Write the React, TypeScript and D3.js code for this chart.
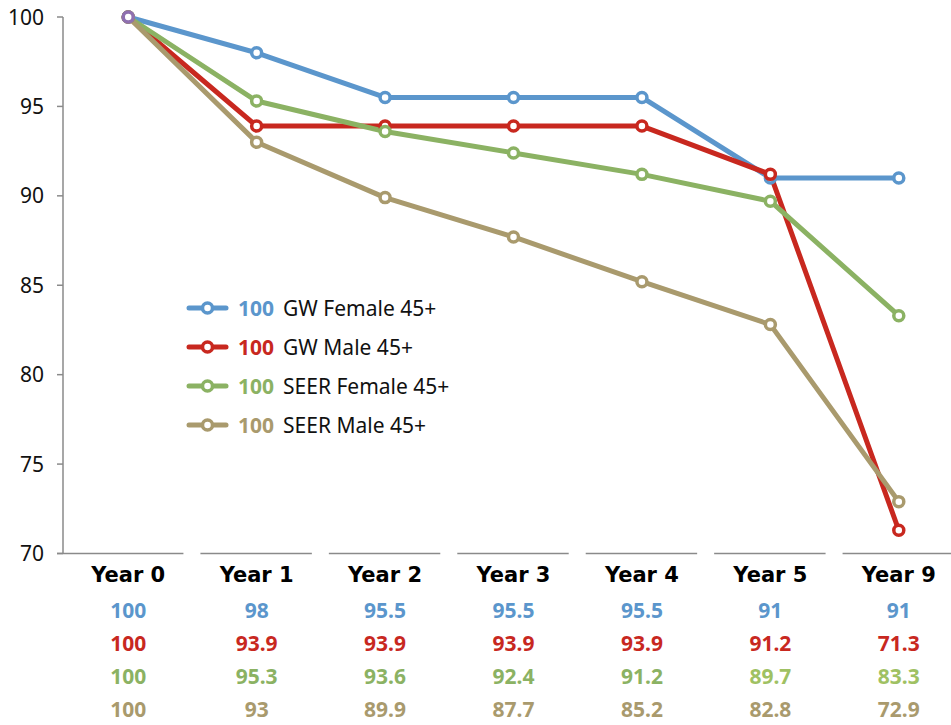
import React from "react";
import * as d3 from "d3";

const categories = ["Year 0", "Year 1", "Year 2", "Year 3", "Year 4", "Year 5", "Year 9"];
const seriesNames = ["GW Female 45+", "GW Male 45+", "SEER Female 45+", "SEER Male 45+"];
const gwFemale = [100, 98, 95.5, 95.5, 95.5, 91, 91];
const gwMale = [100, 93.9, 93.9, 93.9, 93.9, 91.2, 71.3];
const seerFemale = [100, 95.3, 93.6, 92.4, 91.2, 89.7, 83.3];
const seerMale = [100, 93, 89.9, 87.7, 85.2, 82.8, 72.9];
const yTicks = [70, 75, 80, 85, 90, 95, 100];

const colors = ["#5b96cc", "#c8281f", "#8bb263", "#a99a6d"];
const labelColors = [
  ["#5b96cc", "#5b96cc", "#5b96cc", "#5b96cc", "#5b96cc", "#5b96cc", "#5b96cc"],
  ["#c8281f", "#c8281f", "#c8281f", "#c8281f", "#c8281f", "#c8281f", "#c8281f"],
  ["#8bb263", "#8bb263", "#8bb263", "#8bb263", "#8bb263", "#9fc163", "#9fc163"],
  ["#a99a6d", "#a99a6d", "#a99a6d", "#a99a6d", "#a99a6d", "#a99a6d", "#a99a6d"],
];
const startMarkerColor = "#8f70b0";

export default function App() {
  const W = 951, H = 725;
  const data = [gwFemale, gwMale, seerFemale, seerMale];
  const x = d3.scaleBand<string>().domain(categories).range([64, 963]);
  const y = d3.scaleLinear().domain([70, 100]).range([553.5, 17]);
  const cx = (c: string) => (x(c) as number) + x.bandwidth() / 2;
  const line = d3
    .line<number>()
    .x((_, i) => cx(categories[i]))
    .y((d) => y(d));
  const axisColor = "#8a8a8a";
  const rowY = [618, 651, 684, 717];
  const legendY = [308, 347, 386, 425];

  return (
    <svg width={W} height={H} style={{ position: "absolute", left: 0, top: 0, background: "#fff" }}>
      {/* y axis */}
      <line x1={63} x2={63} y1={y(100)} y2={y(70)} stroke={axisColor} strokeWidth={1.5} />
      {yTicks.map((t) => (
        <g key={t}>
          <line x1={57} x2={63} y1={y(t)} y2={y(t)} stroke={axisColor} strokeWidth={1.5} />
          <text x={44} y={y(t)} dy="0.36em" textAnchor="end" fontFamily="Noto Sans" fontSize={21} fill="#111">
            {t}
          </text>
        </g>
      ))}
      {/* category segments */}
      {categories.map((c, i) => {
        const x0 = x(c) as number;
        const x1 = x0 + x.bandwidth();
        return (
          <line
            key={c}
            x1={i === 0 ? 57 : x0 + 8}
            x2={x1 - 9}
            y1={y(70)}
            y2={y(70)}
            stroke={axisColor}
            strokeWidth={1.5}
          />
        );
      })}
      {categories.map((c) => (
        <text
          key={c}
          x={cx(c)}
          y={582}
          textAnchor="middle"
          fontFamily="DejaVu Sans"
          fontWeight="bold"
          fontSize={21}
          fill="#000"
        >
          {c}
        </text>
      ))}
      {/* data table */}
      {data.map((s, si) =>
        s.map((v, i) => (
          <text
            key={si + "-" + i}
            x={cx(categories[i])}
            y={rowY[si]}
            textAnchor="middle"
            fontFamily="Noto Sans"
            fontWeight="bold"
            fontSize={21}
            fill={labelColors[si][i]}
          >
            {v}
          </text>
        ))
      )}
      {/* lines */}
      {data.map((s, si) => (
        <path
          key={"l" + si}
          d={line(s) as string}
          fill="none"
          stroke={colors[si]}
          strokeWidth={5}
          strokeLinejoin="round"
          strokeLinecap="round"
        />
      ))}
      {data.map((s, si) =>
        s.map((v, i) => (
          <circle
            key={"m" + si + "-" + i}
            cx={cx(categories[i])}
            cy={y(v)}
            r={5}
            fill="#fff"
            stroke={i === 0 && si === data.length - 1 ? startMarkerColor : colors[si]}
            strokeWidth={3.5}
          />
        ))
      )}
      {/* legend */}
      {seriesNames.map((n, si) => (
        <g key={n}>
          <line x1={189} x2={226} y1={legendY[si]} y2={legendY[si]} stroke={colors[si]} strokeWidth={5} strokeLinecap="round" />
          <circle cx={207.5} cy={legendY[si]} r={5} fill="#fff" stroke={colors[si]} strokeWidth={3.5} />
          <text x={238} y={legendY[si]} dy="0.36em" fontFamily="Noto Sans" fontSize={21}>
            <tspan fontWeight="bold" fill={colors[si]}>{data[si][0]}</tspan>
            <tspan dx={9} fill="#111">{n}</tspan>
          </text>
        </g>
      ))}
    </svg>
  );
}
